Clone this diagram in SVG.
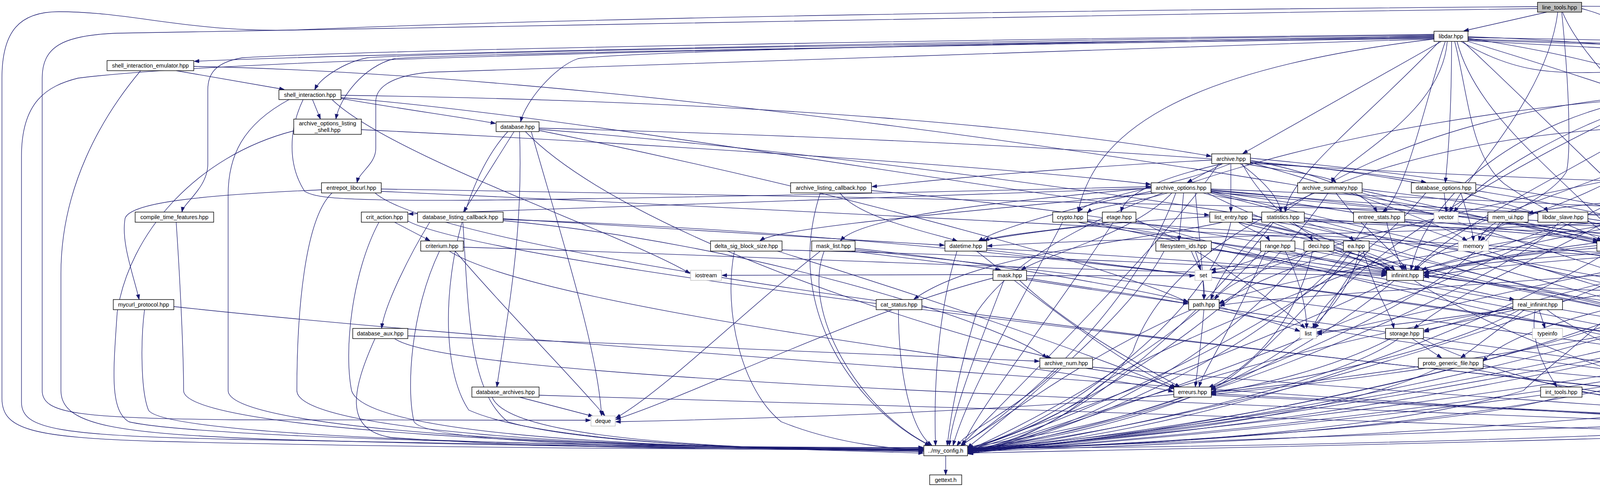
<svg xmlns="http://www.w3.org/2000/svg" width="6931" height="1247" viewBox="0 0 6931 1247">
<style>
.e path{fill:none;stroke:#191970;stroke-width:1.3;marker-end:url(#a)}
.n rect{fill:#fff;stroke:#000;stroke-width:1.4}
.x rect{fill:#fff;stroke:#bfbfbf;stroke-width:1.4}
.r rect{fill:#bfbfbf;stroke:#000;stroke-width:1.4}
text{font-family:"Liberation Sans",Arial,Helvetica,sans-serif;font-size:14.5px;text-anchor:middle;fill:#000}
</style>
<defs>
<marker id="a" viewBox="0 0 13 10" refX="12" refY="5" markerWidth="13" markerHeight="10" markerUnits="userSpaceOnUse" orient="auto"><path d="M0,0.5 L13,5 L0,9.5 z" fill="#191970" stroke="#191970" stroke-width="1"/></marker>
</defs>
<rect x="0" y="0" width="6931" height="1247" fill="#fff"/>
<g id="edges" class="e">
<path d="M3960,31 L3748,79"/>
<path d="M4000,31 C4040,130 4160,240 4208,311"/>
<path d="M4049,22 C4160,50 4250,120 4263,229"/>
<path d="M3988,31 C3960,250 3760,440 3712,542"/>
<path d="M3998,31 C4020,250 4020,400 4010,440 C3960,520 3800,560 3786,616"/>
<path d="M4049,16 C5000,20 6400,60 6880,140 C6920,150 6927,200 6927,260 L6927,1040 C6927,1120 6300,1145 5888,1152"/>
<path d="M3936,17 C2800,25 1500,45 800,75 C500,90 350,30 150,30 C50,30 5,80 5,200 L5,1020 C5,1100 80,1120 400,1130 C1200,1150 2000,1150 2363,1152"/>
<path d="M3936,22 C2600,40 1200,70 300,85 C160,90 108,120 108,200 L108,1000 C108,1060 200,1070 600,1075 C1000,1078 1300,1078 1511,1076"/>
<path d="M3671,90 C2800,100 1000,135 498,157"/>
<path d="M3671,94 C2600,110 1200,130 940,148 C880,160 820,200 806,229"/>
<path d="M3671,96 C2600,115 1200,135 1010,150 C930,170 870,250 860,304"/>
<path d="M3671,100 C2600,130 1500,165 1100,185 C990,195 962,230 962,260 L962,380 C962,420 920,440 914,467"/>
<path d="M3671,88 C2600,100 1000,125 620,148 C550,160 532,190 532,230 L532,420 C532,480 470,520 466,542"/>
<path d="M3671,92 C3000,105 1700,125 1480,150 C1420,170 1345,260 1333,311"/>
<path d="M3690,106 L3182,393"/>
<path d="M3724,106 C3760,250 3765,400 3850,470 C3920,520 3955,530 3962,542"/>
<path d="M3740,106 C3900,200 4000,185 4150,185 C4300,200 4400,330 4432,393"/>
<path d="M3758,98 C4300,180 4640,330 4678,542"/>
<path d="M3758,96 C4600,110 5500,140 5840,165 C5880,175 5894,220 5894,542"/>
<path d="M3758,100 C4700,130 5650,150 5950,165 C6040,180 6060,230 6060,320 L6060,470 C6065,510 6095,530 6105,542"/>
<path d="M3758,102 C5000,150 6600,120 6790,200 C6820,220 6824,250 6824,300 L6824,1050 C6824,1120 6300,1140 5888,1156"/>
<path d="M3671,98 C2000,120 600,150 200,200 C120,220 55,260 55,400 L55,1030 C55,1100 150,1115 600,1125 C1500,1145 2100,1150 2363,1156"/>
<path d="M3758,104 C5500,200 6750,230 6788,450 L6788,700 C6700,900 5800,960 5441,1002"/>
<path d="M3700,106 C3650,250 3600,500 3540,542"/>
<path d="M3705,106 C3690,300 3420,420 3410,467"/>
<path d="M3716,106 C3716,300 3705,420 3700,467"/>
<path d="M3685,106 C3500,300 3300,450 3290,542"/>
<path d="M3730,106 C3780,300 4000,450 4150,616"/>
<path d="M3745,106 C3900,250 4100,450 4200,542"/>
<path d="M3758,106 C4400,300 4900,500 4985,616"/>
<path d="M3671,100 C3000,180 2800,350 2760,542"/>
<path d="M3758,94 C4600,120 5350,300 5500,542"/>
<path d="M451,181 L727,229"/>
<path d="M360,181 C260,300 156,480 156,700 L156,1000 C156,1090 300,1110 700,1125 C1500,1148 2100,1150 2363,1150"/>
<path d="M496,170 C1500,190 3000,400 4110,616"/>
<path d="M800,255 L820,304"/>
<path d="M873,252 C1000,275 1180,300 1268,316"/>
<path d="M776,255 C740,330 735,420 780,490 C830,520 1000,525 2945,478"/>
<path d="M740,255 C620,320 584,400 584,500 L584,1000 C584,1100 1500,1150 2363,1148"/>
<path d="M873,244 C2000,260 2700,330 3100,400"/>
<path d="M850,255 C1000,400 1600,600 1766,700"/>
<path d="M752,335 C500,400 330,600 300,800 C290,950 280,1050 330,1080 C500,1120 1500,1145 2363,1146"/>
<path d="M925,332 C1500,360 2500,420 2945,472"/>
<path d="M1316,337 L1187,542"/>
<path d="M1380,328 C2200,350 3300,400 3650,467"/>
<path d="M1345,337 C1600,600 2400,850 2690,916"/>
<path d="M1330,337 C1340,600 1300,800 1272,990"/>
<path d="M1300,337 C1150,500 1100,900 1200,1050 C1400,1140 2000,1150 2363,1160"/>
<path d="M1360,337 C1450,650 1530,900 1540,1064"/>
<path d="M1380,334 C2200,500 2900,700 3042,775"/>
<path d="M1380,331 C2500,420 4500,700 5827,1146"/>
<path d="M823,486 C500,500 330,520 320,560 C310,620 340,700 356,766"/>
<path d="M976,484 C2000,500 3500,530 4191,551"/>
<path d="M850,494 C780,560 760,800 760,1000 C760,1100 1500,1150 2363,1150"/>
<path d="M976,490 C2500,560 4000,640 4772,700"/>
<path d="M960,494 C1200,700 4000,1000 5827,1150"/>
<path d="M370,793 C360,870 360,1000 380,1050 C420,1120 1500,1148 2363,1146"/>
<path d="M445,785 C1500,900 4500,1100 5827,1152"/>
<path d="M451,569 C460,700 470,900 470,1000 C470,1100 1500,1150 2363,1150"/>
<path d="M1010,569 L1100,616"/>
<path d="M970,569 C900,700 880,900 900,1000 C930,1100 1500,1148 2363,1152"/>
<path d="M1044,566 C1300,700 4000,1000 5827,1148"/>
<path d="M2945,482 C2000,520 1300,540 1046,548"/>
<path d="M1288,560 C1800,590 2200,615 2417,628"/>
<path d="M1100,569 C1050,650 985,780 977,840"/>
<path d="M1185,569 C1200,800 1200,1000 1300,1080 C1500,1140 2000,1150 2363,1154"/>
<path d="M1288,565 C1900,620 2550,820 2680,916"/>
<path d="M1288,562 C2500,600 4000,800 5827,1144"/>
<path d="M1125,643 C1050,800 1040,1000 1060,1080 C1100,1140 1800,1150 2363,1150"/>
<path d="M1165,643 C1300,800 1450,950 1548,1064"/>
<path d="M1186,633 C1800,650 2800,700 3548,705"/>
<path d="M1150,643 C1400,800 2800,950 3003,1003"/>
<path d="M960,867 C900,1000 880,1100 1000,1120 C1400,1150 2000,1152 2363,1152"/>
<path d="M1044,860 C1600,880 2400,910 2660,925"/>
<path d="M1010,867 C1200,1000 4000,1050 5827,1150"/>
<path d="M1330,1017 L1518,1066"/>
<path d="M1260,1017 C1300,1120 1800,1150 2363,1156"/>
<path d="M1380,1012 C3000,1060 5000,1120 5827,1156"/>
<path d="M2960,494 C2500,540 2000,580 1946,616"/>
<path d="M1880,643 C1850,800 1900,1000 2000,1080 C2150,1140 2300,1150 2363,1152"/>
<path d="M2002,640 C2800,660 3300,690 3548,703"/>
<path d="M1990,643 C2500,800 2900,950 3005,995"/>
<path d="M2960,480 C2500,520 2200,560 2152,616"/>
<path d="M2180,643 L2560,691"/>
<path d="M2189,636 C2600,680 2900,740 3041,772"/>
<path d="M2110,643 C2050,800 2200,1050 2380,1140"/>
<path d="M2189,640 C3000,720 5000,1000 5827,1144"/>
<path d="M2100,643 C1900,800 1700,1000 1577,1070"/>
<path d="M3097,555 C2800,570 2600,600 2510,617"/>
<path d="M2947,490 C2700,540 2550,590 2505,617"/>
<path d="M2450,643 C2400,800 2390,1000 2395,1140"/>
<path d="M2526,636 C3000,660 3300,690 3550,700"/>
<path d="M2500,643 C2700,800 2900,950 3010,991"/>
<path d="M2526,640 C3500,750 5200,1000 5827,1148"/>
<path d="M3130,569 C2900,620 2500,650 2340,766"/>
<path d="M2300,793 C2300,950 2330,1100 2385,1140"/>
<path d="M2542,703 L1849,705"/>
<path d="M2628,706 L3057,706"/>
<path d="M2628,712 C2800,740 2950,760 3041,778"/>
<path d="M2610,718 C2750,850 2950,950 3020,991"/>
<path d="M2570,718 C2500,900 2440,1050 2430,1140"/>
<path d="M2628,716 C3500,850 5000,1050 5827,1152"/>
<path d="M2542,712 C2200,800 1800,1000 1577,1074"/>
<path d="M3000,494 C2900,600 2680,650 2615,691"/>
<path d="M3030,494 C3025,550 3020,590 3018,616"/>
<path d="M3050,643 C3060,670 3070,680 3073,691"/>
<path d="M3060,643 C3080,700 3085,740 3082,766"/>
<path d="M2980,643 C2900,800 2600,1050 2477,1146"/>
<path d="M3101,640 C3300,660 3450,690 3552,698"/>
<path d="M3101,636 C4000,800 5300,1000 5827,1146"/>
<path d="M3170,569 C3200,590 3240,600 3250,616"/>
<path d="M3250,643 C3200,680 3110,690 3100,691"/>
<path d="M3290,643 C3320,700 3345,780 3345,840"/>
<path d="M3300,643 C3400,670 3500,690 3553,696"/>
<path d="M3240,643 C3150,850 3080,950 3070,990"/>
<path d="M3230,643 C3000,900 2600,1100 2479,1152"/>
<path d="M3190,569 C3300,590 3350,600 3360,616"/>
<path d="M3400,643 C3500,670 3560,680 3570,691"/>
<path d="M3350,643 C3200,700 3120,690 3102,700"/>
<path d="M3360,643 C3300,900 3120,980 3095,992"/>
<path d="M3415,640 C4200,800 5300,1050 5827,1150"/>
<path d="M3345,643 C3100,950 2700,1120 2479,1158"/>
<path d="M3206,560 C3350,580 3450,600 3465,616"/>
<path d="M3490,643 C3560,670 3590,680 3595,691"/>
<path d="M3505,640 C3450,700 3400,800 3365,840"/>
<path d="M3460,643 C3300,850 3150,980 3100,995"/>
<path d="M3439,640 C3200,720 3150,760 3123,778"/>
<path d="M3480,643 C3400,1000 2700,1130 2479,1150"/>
<path d="M3490,643 C3520,750 3560,800 3568,840"/>
<path d="M3082,793 C3075,880 3065,950 3060,990"/>
<path d="M3121,785 C3200,810 3280,830 3327,848"/>
<path d="M3050,793 C2800,900 2600,1050 2460,1141"/>
<path d="M3115,793 C3600,900 5000,1050 5827,1154"/>
<path d="M2780,943 C2900,960 2980,980 3005,995"/>
<path d="M2710,943 C2600,1050 2480,1100 2450,1141"/>
<path d="M2797,940 C3500,1000 5000,1100 5827,1148"/>
<path d="M3030,1017 C2800,1100 2550,1130 2479,1148"/>
<path d="M3005,1010 C2500,1060 1800,1075 1577,1080"/>
<path d="M3101,1008 C4000,1050 5300,1120 5827,1150"/>
<path d="M3101,1012 C3700,1040 4300,1070 4506,1078"/>
<path d="M3640,718 L3876,767"/>
<path d="M3620,718 C3900,900 4300,1000 4510,1068"/>
<path d="M3560,718 C3200,900 2600,1100 2479,1156"/>
<path d="M3570,718 C3350,900 3150,980 3101,998"/>
<path d="M3880,793 L3646,846"/>
<path d="M3903,793 L3740,916"/>
<path d="M3940,793 L3955,840"/>
<path d="M3930,793 C3915,880 3960,950 3985,990"/>
<path d="M3960,793 C4100,900 4450,1000 4535,1064"/>
<path d="M3890,793 C3700,900 3300,980 3101,1003"/>
<path d="M3873,790 C3200,900 2700,1100 2479,1160"/>
<path d="M3615,867 L3690,916"/>
<path d="M3560,867 C3400,950 3200,990 3101,1007"/>
<path d="M3580,867 C3400,1000 2700,1130 2479,1162"/>
<path d="M3640,867 C3900,1000 4300,1050 4508,1072"/>
<path d="M3760,943 C4100,1010 4400,1050 4508,1075"/>
<path d="M3650,943 C3400,980 3200,1000 3101,1010"/>
<path d="M3680,943 C3400,1080 2700,1140 2479,1150"/>
<path d="M3797,938 C4500,1000 5400,1100 5827,1150"/>
<path d="M4050,1004 C4300,1040 4450,1065 4506,1077"/>
<path d="M3990,1017 C3700,1100 2800,1140 2479,1154"/>
<path d="M4508,1080 C3800,1100 2800,1140 2479,1152"/>
<path d="M4609,1080 C5000,1100 5500,1140 5827,1152"/>
<path d="M5130,943 C5140,1000 5150,1040 5155,1064"/>
<path d="M5181,938 C5500,1000 5800,1080 5850,1140"/>
<path d="M5054,935 C4800,1000 4700,1050 4611,1075"/>
<path d="M5060,943 C4500,1080 3000,1140 2479,1156"/>
<path d="M5237,1085 C5500,1120 5700,1140 5827,1152"/>
<path d="M5104,1085 C4500,1120 3000,1150 2479,1160"/>
<path d="M5410,1017 C5500,1080 5800,1120 5840,1140"/>
<path d="M5330,1017 C5000,1100 3500,1145 2479,1148"/>
<path d="M5350,1017 C5000,1060 4800,1070 4611,1080"/>
<path d="M4255,255 L4238,311"/>
<path d="M4278,255 C4300,350 4290,470 4272,542"/>
<path d="M4235,255 C4000,330 3800,450 3722,542"/>
<path d="M4230,253 C4150,300 4130,400 4125,500 C4120,560 4150,600 4160,616"/>
<path d="M4310,248 C4800,300 5300,450 5470,542"/>
<path d="M4227,248 C3900,300 3650,500 3612,691"/>
<path d="M4227,244 C3700,280 3200,500 3100,766"/>
<path d="M4310,243 C5500,260 6650,300 6760,400 C6770,420 6772,450 6772,500 L6772,1050 C6772,1120 6200,1140 5888,1148"/>
<path d="M4227,250 C3500,300 2700,500 2500,800 C2440,1000 2430,1100 2425,1140"/>
<path d="M4240,255 C3900,400 3400,700 3362,840"/>
<path d="M4310,252 C4600,400 4800,600 4830,691"/>
<path d="M4300,255 C4500,350 4550,420 4557,467"/>
<path d="M4223,337 L4223,393"/>
<path d="M4271,333 C4700,380 5300,470 5462,542"/>
<path d="M4271,328 C5200,360 6600,400 6700,480 C6720,500 6722,540 6722,580 L6722,1050 C6722,1110 6200,1140 5888,1152"/>
<path d="M4176,327 C3500,360 3000,600 2900,900 C2800,1050 2550,1130 2479,1150"/>
<path d="M4190,337 C3900,500 3700,600 3620,691"/>
<path d="M4223,419 L4223,467"/>
<path d="M4256,413 C4800,450 5300,500 5500,542"/>
<path d="M4200,419 C4000,550 3700,600 3625,691"/>
<path d="M4256,416 C5200,450 6500,480 6622,560 C6630,570 6632,600 6632,650 L6632,1050 C6632,1110 6200,1140 5888,1158"/>
<path d="M4195,419 C3700,600 2900,900 2800,1000 C2700,1100 2550,1140 2479,1158"/>
<path d="M4290,484 C4800,500 5300,530 5455,550"/>
<path d="M4220,494 C4100,600 3800,700 3620,841"/>
<path d="M4170,494 C3800,700 2900,1050 2479,1162"/>
<path d="M4280,494 C4700,700 5600,900 5845,1140"/>
<path d="M4460,419 L4530,467"/>
<path d="M4420,419 C4360,480 4310,520 4285,542"/>
<path d="M4445,419 C4440,600 4300,900 4100,1000 C3500,1120 2700,1150 2479,1146"/>
<path d="M4508,410 C5300,450 6500,500 6570,600 C6572,620 6572,660 6572,700 L6572,1050 C6572,1110 6200,1140 5888,1146"/>
<path d="M4400,419 C4300,500 4200,580 4190,616"/>
<path d="M4366,415 C3900,500 3200,650 3110,766"/>
<path d="M4626,482 C5000,500 5300,530 5453,548"/>
<path d="M4488,490 C4200,510 3950,530 3914,548"/>
<path d="M4530,494 C4450,560 4250,600 4200,616"/>
<path d="M4600,494 C4800,550 4950,590 4970,616"/>
<path d="M4626,490 C5200,600 5700,900 5850,1140"/>
<path d="M4500,494 C4200,800 3000,1100 2479,1152"/>
<path d="M4560,494 C4700,600 4830,650 4835,691"/>
<path d="M4255,569 C4230,590 4200,600 4190,616"/>
<path d="M4193,560 C3900,620 3300,700 3121,776"/>
<path d="M4245,569 C4300,700 4000,900 3900,1000 C3500,1120 2700,1150 2479,1150"/>
<path d="M4298,562 C5000,650 5700,950 5835,1140"/>
<path d="M4193,566 C3600,600 2800,610 2528,630"/>
<path d="M4200,569 C3900,620 3700,680 3620,691"/>
<path d="M4065,565 C4100,590 4110,600 4120,616"/>
<path d="M3990,569 C3900,700 3000,1100 2479,1148"/>
<path d="M4065,560 C5000,700 5700,1000 5830,1142"/>
<path d="M4000,569 C3900,620 3700,670 3640,691"/>
<path d="M3850,569 L3790,616"/>
<path d="M3900,569 C4000,590 4100,600 4130,616"/>
<path d="M3840,569 C3700,800 2900,1100 2479,1154"/>
<path d="M4700,569 C4710,590 4720,600 4722,618"/>
<path d="M4609,560 C4400,590 4260,605 4240,617"/>
<path d="M4609,564 C4000,620 3700,680 3645,700"/>
<path d="M4650,569 C4500,800 3200,1100 2479,1160"/>
<path d="M4742,560 C5400,700 5800,1000 5845,1141"/>
<path d="M5453,560 C5000,580 4800,600 4722,625"/>
<path d="M5460,565 C5300,590 5150,600 5076,625"/>
<path d="M5470,569 C5300,700 5200,850 5150,916"/>
<path d="M5453,556 C4800,580 4000,600 3646,704"/>
<path d="M5453,552 C4800,570 4400,590 4244,620"/>
<path d="M5453,563 C5000,590 4600,600 4488,622"/>
<path d="M5453,562 C4500,700 3900,800 3797,925"/>
<path d="M5460,569 C5000,800 4700,1000 4611,1068"/>
<path d="M5540,569 C5700,800 5840,1000 5850,1140"/>
<path d="M5453,566 C4500,900 3000,1120 2479,1154"/>
<path d="M5453,567 C4500,700 3300,750 3123,782"/>
<path d="M5850,569 C5500,600 4600,610 4244,622"/>
<path d="M5860,569 C5500,620 5000,680 4899,700"/>
<path d="M5991,569 C6100,800 6000,1050 5886,1148"/>
<path d="M5800,569 C5000,900 3000,1120 2479,1152"/>
<path d="M5786,566 C5000,620 4000,640 3646,710"/>
<path d="M6074,569 C5500,610 4600,615 4244,626"/>
<path d="M6107,569 C5600,620 5100,680 4899,706"/>
<path d="M6137,569 C6200,850 6050,1100 5888,1154"/>
<path d="M6040,569 C5000,950 3000,1130 2479,1156"/>
<path d="M3150,419 C3000,480 2800,500 2760,542"/>
<path d="M2990,494 C2900,520 2800,530 2784,545"/>
<path d="M2784,563 C3500,620 4400,650 4772,705"/>
<path d="M2760,569 C2900,600 3400,650 3550,695"/>
<path d="M2784,566 C3500,700 4800,850 5052,927"/>
<path d="M2720,569 C2600,800 2480,1000 2440,1140"/>
<path d="M2784,568 C3600,750 5000,1000 5827,1144"/>
<path d="M3130,419 C2950,460 2880,500 2870,542"/>
<path d="M2840,569 C2700,590 2560,600 2520,616"/>
<path d="M2908,562 C3100,650 3300,800 3340,840"/>
<path d="M2850,569 C2700,800 2500,1050 2465,1140"/>
<path d="M2908,566 C3700,800 5000,1050 5827,1150"/>
<path d="M3151,419 L3151,542"/>
<path d="M873,250 C1500,300 2600,500 3095,551"/>
<path d="M3206,562 C4000,580 5300,590 5470,616"/>
<path d="M3151,569 C3100,800 2700,1100 2479,1146"/>
<path d="M3206,568 C3800,700 5000,1000 5827,1156"/>
<path d="M3170,569 C3300,600 3500,650 3560,692"/>
<path d="M3175,419 C3230,460 3270,500 3280,542"/>
<path d="M3339,560 C3700,580 4000,600 4090,620"/>
<path d="M3300,569 C3400,620 3540,660 3570,692"/>
<path d="M3339,566 C4000,600 4800,610 4896,625"/>
<path d="M3260,569 C3000,900 2700,1120 2479,1160"/>
<path d="M3339,568 C4000,800 5200,1000 5827,1160"/>
<path d="M3201,410 C3400,450 3500,500 3525,542"/>
<path d="M3550,569 C3560,620 3580,660 3590,691"/>
<path d="M3596,562 C3800,580 4000,600 4100,617"/>
<path d="M3500,569 C3300,900 2700,1120 2479,1162"/>
<path d="M3596,566 C4200,800 5300,1050 5827,1162"/>
<path d="M3185,419 C3300,440 3400,450 3420,467"/>
<path d="M3420,494 C3500,600 3580,650 3600,691"/>
<path d="M3487,488 C4000,600 4900,800 5080,916"/>
<path d="M3487,494 C4500,800 5000,1000 5110,1064"/>
<path d="M3400,494 C3200,800 2700,1100 2479,1146"/>
<path d="M3487,484 C4500,600 5600,900 5835,1141"/>
<path d="M3697,494 L3703,542"/>
<path d="M3650,494 C3400,800 2700,1100 2479,1152"/>
<path d="M3778,488 C4500,600 5600,950 5840,1141"/>
<path d="M3740,494 C3760,560 3770,590 3772,616"/>
<path d="M3130,419 L3040,467"/>
<path d="M3100,484 C4000,520 5300,580 5452,620"/>
<path d="M3100,488 C3700,540 4000,545 4191,556"/>
<path d="M3060,494 C3070,600 3080,700 3082,766"/>
<path d="M3100,492 C3800,550 4500,650 4772,697"/>
<path d="M3090,494 C3300,600 3500,650 3555,692"/>
<path d="M3100,490 C3900,600 4900,800 5060,916"/>
<path d="M3100,494 C3900,700 4800,950 5106,1068"/>
<path d="M3010,494 C2900,800 2600,1050 2460,1141"/>
<path d="M3100,491 C4000,700 5300,1000 5827,1146"/>
<path d="M3100,486 C3600,530 3950,580 4090,616"/>
<path d="M3080,494 C3200,540 4400,580 4880,625"/>
<path d="M3102,410 C2700,430 2400,460 2233,478"/>
<path d="M3201,405 C3700,450 4100,520 4191,548"/>
<path d="M3201,414 C3700,450 4000,560 4100,616"/>
<path d="M3120,419 C3000,600 2600,1000 2460,1141"/>
<path d="M3201,418 C4500,500 6200,500 6470,600 C6475,620 6475,650 6475,700 L6475,1050 C6475,1110 6200,1140 5888,1150"/>
<path d="M3180,419 C3250,550 3400,650 3560,693"/>
<path d="M3201,416 C3500,500 3700,580 3755,616"/>
<path d="M2100,494 C2000,800 2200,1050 2380,1141"/>
<path d="M2231,488 C3500,600 5000,1000 5827,1158"/>
<path d="M2150,494 C2200,560 2400,600 2450,617"/>
<path d="M4242,635 C4500,660 4700,680 4772,700"/>
<path d="M4088,635 C3900,650 3700,680 3646,698"/>
<path d="M4165,643 C4400,800 5500,1000 5835,1142"/>
<path d="M4120,643 C3700,900 3000,1120 2479,1152"/>
<path d="M4419,630 C4000,650 3700,680 3646,700"/>
<path d="M4450,643 C4470,800 4520,1000 4540,1064"/>
<path d="M4430,643 C4200,700 3800,800 3646,850"/>
<path d="M4440,643 C4200,900 3000,1120 2479,1150"/>
<path d="M4488,636 C5000,800 5700,1050 5830,1148"/>
<path d="M4425,643 C4000,700 3500,840 3372,855"/>
<path d="M4660,643 C4600,800 4580,1000 4570,1064"/>
<path d="M4630,643 C4300,900 3000,1120 2479,1156"/>
<path d="M4720,636 C5200,800 5700,1050 5832,1150"/>
<path d="M5030,643 L5003,691"/>
<path d="M4950,643 C4800,900 4650,1000 4600,1064"/>
<path d="M5074,636 C5500,800 5800,1050 5845,1141"/>
<path d="M4920,643 C4400,900 3000,1120 2479,1148"/>
<path d="M4896,640 C4400,700 3700,830 3372,850"/>
<path d="M5520,643 C5560,800 5700,1000 5840,1141"/>
<path d="M5470,643 C5200,800 4800,1000 4611,1070"/>
<path d="M5460,643 C4800,950 3000,1130 2479,1154"/>
<path d="M5453,636 C4800,700 4300,800 3646,706"/>
<path d="M4800,718 C4700,900 4600,1000 4580,1064"/>
<path d="M4850,718 C5200,900 5700,1050 5832,1144"/>
<path d="M4774,712 C4300,850 3400,980 3101,1005"/>
<path d="M4780,718 C4300,950 3000,1130 2479,1152"/>
<path d="M2421,1167 L2421,1215"/>
</g>
<g id="node-line_tools" class="r"><rect x="3936" y="6" width="113" height="25"/><text x="3992.5" y="23.5">line_tools.hpp</text></g>
<g id="node-libdar" class="n"><rect x="3671" y="80" width="87" height="26"/><text x="3714.5" y="98">libdar.hpp</text></g>
<g id="node-shell_interaction_emulator" class="n"><rect x="274" y="155" width="222" height="26"/><text x="385" y="173">shell_interaction_emulator.hpp</text></g>
<g id="node-shell_interaction" class="n"><rect x="714" y="230" width="159" height="25"/><text x="793.5" y="247.5">shell_interaction.hpp</text></g>
<g id="node-tools" class="n"><rect x="4227" y="230" width="83" height="25"/><text x="4268.5" y="247.5">tools.hpp</text></g>
<g id="node-archive_options_listing_shell" class="n"><rect x="752" y="305" width="173" height="39"/><text x="838.5" y="321">archive_options_listing</text><text x="838.5" y="338">_shell.hpp</text></g>
<g id="node-database" class="n"><rect x="1270" y="312" width="110" height="25"/><text x="1325" y="329.5">database.hpp</text></g>
<g id="node-tlv_list" class="n"><rect x="4176" y="312" width="95" height="25"/><text x="4223.5" y="329.5">tlv_list.hpp</text></g>
<g id="node-archive" class="n"><rect x="3102" y="394" width="99" height="25"/><text x="3151.5" y="411.5">archive.hpp</text></g>
<g id="node-tlv" class="n"><rect x="4190" y="394" width="66" height="25"/><text x="4223" y="411.5">tlv.hpp</text></g>
<g id="node-entrepot_local" class="n"><rect x="4366" y="394" width="142" height="25"/><text x="4437" y="411.5">entrepot_local.hpp</text></g>
<g id="node-entrepot_libcurl" class="n"><rect x="823" y="468" width="153" height="26"/><text x="899.5" y="486">entrepot_libcurl.hpp</text></g>
<g id="node-archive_listing_callback" class="n"><rect x="2024" y="468" width="207" height="26"/><text x="2127.5" y="486">archive_listing_callback.hpp</text></g>
<g id="node-archive_options" class="n"><rect x="2947" y="468" width="153" height="26"/><text x="3023.5" y="486">archive_options.hpp</text></g>
<g id="node-archive_summary" class="n"><rect x="3322" y="468" width="165" height="26"/><text x="3404.5" y="486">archive_summary.hpp</text></g>
<g id="node-database_options" class="n"><rect x="3613" y="468" width="165" height="26"/><text x="3695.5" y="486">database_options.hpp</text></g>
<g id="node-memory_file" class="n"><rect x="4158" y="468" width="132" height="26"/><text x="4224" y="486">memory_file.hpp</text></g>
<g id="node-fichier_global" class="n"><rect x="4488" y="468" width="138" height="26"/><text x="4557" y="486">fichier_global.hpp</text></g>
<g id="node-compile_time_features" class="n"><rect x="346" y="543" width="201" height="26"/><text x="446.5" y="561">compile_time_features.hpp</text></g>
<g id="node-crit_action" class="n"><rect x="925" y="543" width="119" height="26"/><text x="984.5" y="561">crit_action.hpp</text></g>
<g id="node-database_listing_callback" class="n"><rect x="1069" y="543" width="219" height="26"/><text x="1178.5" y="561">database_listing_callback.hpp</text></g>
<g id="node-crypto" class="n"><rect x="2695" y="543" width="89" height="26"/><text x="2739.5" y="561">crypto.hpp</text></g>
<g id="node-etage" class="n"><rect x="2822" y="543" width="86" height="26"/><text x="2865" y="561">etage.hpp</text></g>
<g id="node-list_entry" class="n"><rect x="3097" y="543" width="109" height="26"/><text x="3151.5" y="561">list_entry.hpp</text></g>
<g id="node-statistics" class="n"><rect x="3230" y="543" width="109" height="26"/><text x="3284.5" y="561">statistics.hpp</text></g>
<g id="node-entree_stats" class="n"><rect x="3465" y="543" width="131" height="26"/><text x="3530.5" y="561">entree_stats.hpp</text></g>
<g id="node-vector" class="x"><rect x="3671" y="543" width="62" height="26"/><text x="3702" y="561">vector</text></g>
<g id="node-mem_ui" class="n"><rect x="3809" y="543" width="103" height="26"/><text x="3860.5" y="561">mem_ui.hpp</text></g>
<g id="node-libdar_slave" class="n"><rect x="3937" y="543" width="128" height="26"/><text x="4001" y="561">libdar_slave.hpp</text></g>
<g id="node-entrepot" class="n"><rect x="4193" y="543" width="105" height="26"/><text x="4245.5" y="561">entrepot.hpp</text></g>
<g id="node-libdar_xform" class="n"><rect x="4609" y="543" width="133" height="26"/><text x="4675.5" y="561">libdar_xform.hpp</text></g>
<g id="node-generic_file" class="n"><rect x="5453" y="543" width="125" height="26"/><text x="5515.5" y="561">generic_file.hpp</text></g>
<g id="node-user_interaction_callback" class="n"><rect x="5786" y="543" width="216" height="26"/><text x="5894" y="561">user_interaction_callback.hpp</text></g>
<g id="node-user_interaction_blind" class="n"><rect x="6027" y="543" width="194" height="26"/><text x="6124" y="561">user_interaction_blind.hpp</text></g>
<g id="node-criterium" class="n"><rect x="1077" y="617" width="109" height="26"/><text x="1131.5" y="635">criterium.hpp</text></g>
<g id="node-delta_sig_block_size" class="n"><rect x="1819" y="617" width="183" height="26"/><text x="1910.5" y="635">delta_sig_block_size.hpp</text></g>
<g id="node-mask_list" class="n"><rect x="2078" y="617" width="111" height="26"/><text x="2133.5" y="635">mask_list.hpp</text></g>
<g id="node-datetime" class="n"><rect x="2419" y="617" width="107" height="26"/><text x="2472.5" y="635">datetime.hpp</text></g>
<g id="node-filesystem_ids" class="n"><rect x="2959" y="617" width="142" height="26"/><text x="3030" y="635">filesystem_ids.hpp</text></g>
<g id="node-range" class="n"><rect x="3227" y="617" width="88" height="26"/><text x="3271" y="635">range.hpp</text></g>
<g id="node-deci" class="n"><rect x="3338" y="617" width="77" height="26"/><text x="3376.5" y="635">deci.hpp</text></g>
<g id="node-ea" class="n"><rect x="3439" y="617" width="66" height="26"/><text x="3472" y="635">ea.hpp</text></g>
<g id="node-memory" class="x"><rect x="3733" y="617" width="78" height="26"/><text x="3772" y="635">memory</text></g>
<g id="node-user_interaction" class="n"><rect x="4088" y="617" width="154" height="26"/><text x="4165" y="635">user_interaction.hpp</text></g>
<g id="node-crc" class="n"><rect x="4419" y="617" width="69" height="26"/><text x="4453.5" y="635">crc.hpp</text></g>
<g id="node-gf_mode" class="n"><rect x="4614" y="617" width="106" height="26"/><text x="4667" y="635">gf_mode.hpp</text></g>
<g id="node-thread_cancellation" class="n"><rect x="4896" y="617" width="178" height="26"/><text x="4985" y="635">thread_cancellation.hpp</text></g>
<g id="node-fsa_family" class="n"><rect x="5453" y="617" width="117" height="26"/><text x="5511.5" y="635">fsa_family.hpp</text></g>
<g id="node-iostream" class="x"><rect x="1768" y="692" width="79" height="26"/><text x="1807.5" y="710">iostream</text></g>
<g id="node-mask" class="n"><rect x="2542" y="692" width="86" height="26"/><text x="2585" y="710">mask.hpp</text></g>
<g id="node-set" class="x"><rect x="3059" y="692" width="43" height="26"/><text x="3080.5" y="710">set</text></g>
<g id="node-infinint" class="n"><rect x="3550" y="692" width="94" height="26"/><text x="3597" y="710">infinint.hpp</text></g>
<g id="node-secu_string" class="n"><rect x="4774" y="692" width="123" height="26"/><text x="4835.5" y="710">secu_string.hpp</text></g>
<g id="node-map" class="x"><rect x="4973" y="692" width="51" height="26"/><text x="4998.5" y="710">map</text></g>
<g id="node-mycurl_protocol" class="n"><rect x="290" y="767" width="155" height="26"/><text x="367.5" y="785">mycurl_protocol.hpp</text></g>
<g id="node-cat_status" class="n"><rect x="2243" y="767" width="117" height="26"/><text x="2301.5" y="785">cat_status.hpp</text></g>
<g id="node-path" class="n"><rect x="3043" y="767" width="78" height="26"/><text x="3082" y="785">path.hpp</text></g>
<g id="node-real_infinint" class="n"><rect x="3873" y="767" width="127" height="26"/><text x="3936.5" y="785">real_infinint.hpp</text></g>
<g id="node-database_aux" class="n"><rect x="903" y="841" width="141" height="26"/><text x="973.5" y="859">database_aux.hpp</text></g>
<g id="node-list" class="x"><rect x="3328" y="841" width="42" height="26"/><text x="3349" y="859">list</text></g>
<g id="node-storage" class="n"><rect x="3547" y="841" width="97" height="26"/><text x="3595.5" y="859">storage.hpp</text></g>
<g id="node-typeinfo" class="x"><rect x="3923" y="841" width="77" height="26"/><text x="3961.5" y="859">typeinfo</text></g>
<g id="node-archive_num" class="n"><rect x="2662" y="917" width="135" height="26"/><text x="2729.5" y="935">archive_num.hpp</text></g>
<g id="node-proto_generic_file" class="n"><rect x="3631" y="917" width="166" height="26"/><text x="3714" y="935">proto_generic_file.hpp</text></g>
<g id="node-archive_aux" class="n"><rect x="5054" y="917" width="127" height="26"/><text x="5117.5" y="935">archive_aux.hpp</text></g>
<g id="node-database_archives" class="n"><rect x="1208" y="991" width="172" height="26"/><text x="1294" y="1009">database_archives.hpp</text></g>
<g id="node-erreurs" class="n"><rect x="3005" y="991" width="96" height="26"/><text x="3053" y="1009">erreurs.hpp</text></g>
<g id="node-int_tools" class="n"><rect x="3944" y="991" width="106" height="26"/><text x="3997" y="1009">int_tools.hpp</text></g>
<g id="node-get_version" class="n"><rect x="5313" y="991" width="126" height="26"/><text x="5376" y="1009">get_version.hpp</text></g>
<g id="node-deque" class="x"><rect x="1513" y="1065" width="62" height="26"/><text x="1544" y="1083">deque</text></g>
<g id="node-integers" class="n"><rect x="4508" y="1065" width="101" height="26"/><text x="4558.5" y="1083">integers.hpp</text></g>
<g id="node-compression" class="n"><rect x="5104" y="1065" width="133" height="26"/><text x="5170.5" y="1083">compression.hpp</text></g>
<g id="node-my_config" class="n"><rect x="2365" y="1141" width="112" height="26"/><text x="2421" y="1159">../my_config.h</text></g>
<g id="node-string" class="x"><rect x="5829" y="1141" width="57" height="26"/><text x="5857.5" y="1159">string</text></g>
<g id="node-gettext" class="n"><rect x="2380" y="1216" width="82" height="25"/><text x="2421" y="1233.5">gettext.h</text></g>
</svg>
